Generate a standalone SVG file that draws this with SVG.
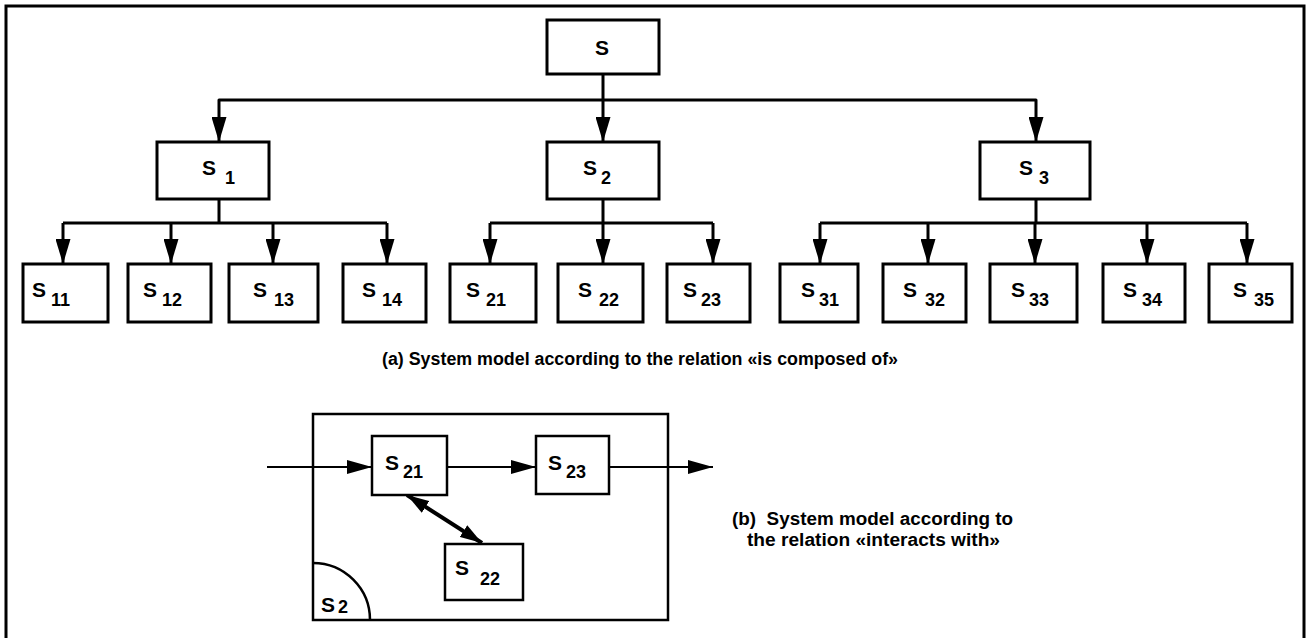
<svg xmlns="http://www.w3.org/2000/svg" width="1307" height="638" viewBox="0 0 1307 638">
<defs>
<style>
.box{fill:#fff;stroke:#000;stroke-width:3}
.thin{fill:#fff;stroke:#000;stroke-width:2.5}
.ln{fill:none;stroke:#000;stroke-width:3;stroke-linejoin:round}
.ln2{fill:none;stroke:#000;stroke-width:2}
.s{font-family:"Liberation Sans",Arial,sans-serif;font-weight:bold;font-size:21px;fill:#000}
.sub{font-family:"Liberation Sans",Arial,sans-serif;font-weight:bold;font-size:18px;fill:#000}
.cap{font-family:"Liberation Sans",Arial,sans-serif;font-weight:bold;font-size:18px;fill:#000}
</style>
<marker id="ah" viewBox="0 0 25 15" refX="25" refY="7.5" markerWidth="25" markerHeight="15" orient="auto" markerUnits="userSpaceOnUse"><path d="M0,0 L25,7.5 L0,15 z" fill="#000"/></marker>
<marker id="ahs" viewBox="0 0 25 14" refX="25" refY="7" markerWidth="25" markerHeight="14" orient="auto" markerUnits="userSpaceOnUse"><path d="M0,0 L25,7 L0,14 z" fill="#000"/></marker>
<marker id="ahd" viewBox="0 0 22 14" refX="22" refY="7" markerWidth="22" markerHeight="14" orient="auto-start-reverse" markerUnits="userSpaceOnUse"><path d="M0,0 L22,7 L0,14 z" fill="#000"/></marker>
</defs>
<rect width="1307" height="638" fill="#fff"/>
<path id="frame" d="M6,642 V6 H1304 V642" fill="none" stroke="#000" stroke-width="3"/>

<g id="connectors">
<path class="ln" d="M603,74 V142" marker-end="url(#ah)"/>
<path class="ln" d="M603,100 H219 V142" marker-end="url(#ah)"/>
<path class="ln" d="M603,100 H1036 V142" marker-end="url(#ah)"/>
<path class="ln" d="M219,199 V223 M63,223 H387"/>
<path class="ln" d="M63,223 V264" marker-end="url(#ah)"/>
<path class="ln" d="M171,223 V264" marker-end="url(#ah)"/>
<path class="ln" d="M273,223 V264" marker-end="url(#ah)"/>
<path class="ln" d="M387,223 V264" marker-end="url(#ah)"/>
<path class="ln" d="M603,199 V223 M490,223 H713"/>
<path class="ln" d="M490,223 V264" marker-end="url(#ah)"/>
<path class="ln" d="M603,223 V264" marker-end="url(#ah)"/>
<path class="ln" d="M713,223 V264" marker-end="url(#ah)"/>
<path class="ln" d="M1036,199 V223 M820,223 H1247"/>
<path class="ln" d="M820,223 V264" marker-end="url(#ah)"/>
<path class="ln" d="M928,223 V264" marker-end="url(#ah)"/>
<path class="ln" d="M1035,223 V264" marker-end="url(#ah)"/>
<path class="ln" d="M1147,223 V264" marker-end="url(#ah)"/>
<path class="ln" d="M1247,223 V264" marker-end="url(#ah)"/>
</g>

<g id="n-S"><rect class="box" x="547" y="20" width="112" height="54"/><text class="s" x="595" y="55">S</text></g>
<g id="n-S1"><rect class="box" x="157" y="142" width="112" height="57"/><text class="s" x="202" y="175">S</text><text class="sub" x="225" y="184">1</text></g>
<g id="n-S2"><rect class="box" x="547" y="142" width="112" height="57"/><text class="s" x="583" y="175">S</text><text class="sub" x="601" y="184">2</text></g>
<g id="n-S3"><rect class="box" x="980" y="142" width="110" height="57"/><text class="s" x="1019" y="175">S</text><text class="sub" x="1039" y="184">3</text></g>

<g id="n-S11"><rect class="box" x="23" y="264" width="85" height="58"/><text class="s" x="32" y="297">S</text><text class="sub" x="51" y="306">11</text></g>
<g id="n-S12"><rect class="box" x="128" y="264" width="83" height="58"/><text class="s" x="143" y="297">S</text><text class="sub" x="162" y="306">12</text></g>
<g id="n-S13"><rect class="box" x="229" y="264" width="89" height="58"/><text class="s" x="253" y="297">S</text><text class="sub" x="274" y="306">13</text></g>
<g id="n-S14"><rect class="box" x="343" y="264" width="83" height="58"/><text class="s" x="362" y="297">S</text><text class="sub" x="382" y="306">14</text></g>
<g id="n-S21"><rect class="box" x="450" y="264" width="86" height="58"/><text class="s" x="466" y="297">S</text><text class="sub" x="486" y="306">21</text></g>
<g id="n-S22"><rect class="box" x="558" y="264" width="85" height="58"/><text class="s" x="578" y="297">S</text><text class="sub" x="599" y="306">22</text></g>
<g id="n-S23"><rect class="box" x="667" y="264" width="83" height="58"/><text class="s" x="683" y="297">S</text><text class="sub" x="701" y="306">23</text></g>
<g id="n-S31"><rect class="box" x="780" y="264" width="78" height="58"/><text class="s" x="801" y="297">S</text><text class="sub" x="819" y="306">31</text></g>
<g id="n-S32"><rect class="box" x="883" y="264" width="83" height="58"/><text class="s" x="903" y="297">S</text><text class="sub" x="925" y="306">32</text></g>
<g id="n-S33"><rect class="box" x="990" y="264" width="87" height="58"/><text class="s" x="1011" y="297">S</text><text class="sub" x="1029" y="306">33</text></g>
<g id="n-S34"><rect class="box" x="1103" y="264" width="82" height="58"/><text class="s" x="1123" y="297">S</text><text class="sub" x="1142" y="306">34</text></g>
<g id="n-S35"><rect class="box" x="1209" y="264" width="83" height="58"/><text class="s" x="1233" y="297">S</text><text class="sub" x="1254" y="306">35</text></g>

<text id="caption-a" class="cap" x="382" y="365" textLength="516" lengthAdjust="spacingAndGlyphs">(a) System model according to the relation «is composed of»</text>

<g id="b-S2"><rect class="thin" x="313" y="414" width="355" height="206"/><path d="M313,563 A57,57 0 0 1 370,620" fill="none" stroke="#000" stroke-width="2.5"/><text class="s" x="321" y="612">S</text><text class="sub" x="338" y="613">2</text></g>

<g id="b-connectors">
<path class="ln2" d="M267,467 H372" marker-end="url(#ahs)"/>
<path class="ln2" d="M447,467 H536" marker-end="url(#ahs)"/>
<path class="ln2" d="M609,467 H713" marker-end="url(#ahs)"/>
<path d="M407,495 L482,543" fill="none" stroke="#000" stroke-width="4" marker-start="url(#ahd)" marker-end="url(#ahd)"/>
</g>

<g id="b-S21"><rect class="thin" x="372" y="436" width="75" height="59"/><text class="s" x="385" y="470">S</text><text class="sub" x="403" y="478">21</text></g>
<g id="b-S23"><rect class="thin" x="536" y="436" width="73" height="58"/><text class="s" x="548" y="470">S</text><text class="sub" x="566" y="478">23</text></g>
<g id="b-S22"><rect class="thin" x="445" y="544" width="78" height="56"/><text class="s" x="455" y="575">S</text><text class="sub" x="480" y="585">22</text></g>

<text id="caption-b1" class="cap" x="732" y="525" textLength="281" lengthAdjust="spacingAndGlyphs" xml:space="preserve">(b)  System model according to</text>
<text id="caption-b2" class="cap" x="747" y="546" textLength="253" lengthAdjust="spacingAndGlyphs">the relation «interacts with»</text>
</svg>
